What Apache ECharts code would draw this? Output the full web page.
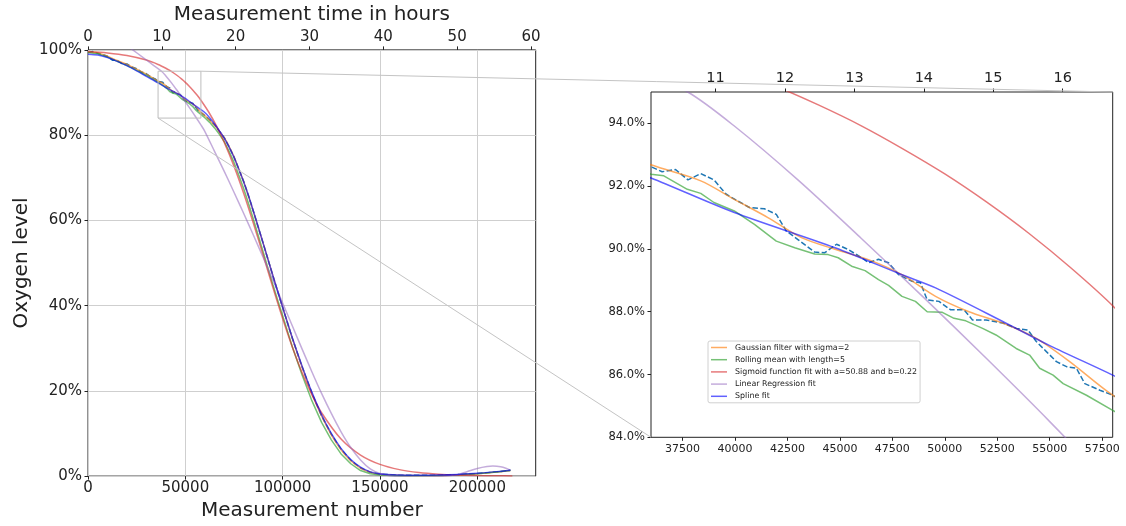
<!DOCTYPE html>
<html><head><meta charset="utf-8">
<script src="https://cdn.jsdelivr.net/npm/echarts@6/dist/echarts.min.js"></script>
<style>html,body{margin:0;padding:0;background:#fff}#c{width:1126px;height:526px}</style>
</head><body><div id="c"></div>
<script>
// ---------- tick labels ----------
const mainXTicks = [0, 50000, 100000, 150000, 200000];
const mainHourTicks = [0, 10, 20, 30, 40, 50, 60];
const mainYTicks = [0, 20, 40, 60, 80, 100];
const insetXTicks = [37500, 40000, 42500, 45000, 47500, 50000, 52500, 55000, 57500];
const insetHourTicks = [11, 12, 13, 14, 15, 16];
const insetYTicks = [84, 86, 88, 90, 92, 94];
// zoom window (shown as rectangle in main plot and as inset extent)
const zoomX = [36000, 58000];
const zoomY = [84, 95];
const mainXRange = [0, 230000];
const mainHourRange = [0, 60.64];
const insetHourRange = [10.07, 16.72];

// ---------- series values ----------
const rawX = [0, 2500, 5000, 7500, 10000, 12500, 15000, 17500, 20000, 22500, 25000, 27500, 30000, 32500, 34500,
  36000, 36530, 37170, 37760, 38370, 39000, 39570, 40130, 40690, 41400, 41970, 42450, 43000, 43800, 44280, 44840,
  45400, 46040, 46360, 46840, 47320, 47800, 48440, 48840, 49160, 49720, 50280, 50920, 51320, 51960, 52760, 53400,
  53960, 54360, 54840, 55320, 55800, 56270, 56670, 57390, 58000,
  60000, 62500, 65000, 67500, 70000, 72500, 75000, 77500, 80000, 82500, 85000, 87500, 90000, 92500, 95000, 97500, 100000,
  105000, 110000, 115000, 120000, 125000, 130000, 135000, 140000, 145000, 150000,
  160000, 170000, 180000, 190000, 200000, 210000, 217000];
const rawY = [99.4, 99.6, 99.2, 98.9, 98.5, 97.6, 97.5, 96.8, 96.7, 96.0, 95.6, 94.8, 94.4, 93.6, 93.2,
  92.62, 92.46, 92.53, 92.2, 92.4, 92.2, 91.75, 91.53, 91.32, 91.28, 91.1, 90.57, 90.3, 89.9, 89.88, 90.15,
  89.98, 89.72, 89.56, 89.67, 89.56, 89.18, 88.97, 88.92, 88.38, 88.33, 88.06, 88.06, 87.74, 87.74, 87.64, 87.47,
  87.42, 87.05, 86.73, 86.41, 86.25, 86.2, 85.71, 85.5, 85.34,
  84.6, 83.6, 82.4, 80.9, 79.4, 77.3, 74.9, 72.0, 69.1, 65.7, 62.1, 58.3, 54.6, 50.8, 47.0, 43.2, 39.6,
  32.3, 25.6, 19.5, 14.1, 9.8, 6.3, 3.7, 1.9, 0.9, 0.5,
  0.2, 0.2, 0.2, 0.35, 0.6, 1.0, 1.35];

const gaussX = [0, 5000, 10000, 15000, 20000, 25000, 30000, 33000,
  36000, 38370, 39970, 41570, 43170, 44770, 46360, 47960, 49560, 51150, 52760, 54360, 55950, 58000,
  60000, 62500, 65000, 67500, 70000, 72500, 75000, 77500, 80000, 82500, 85000, 87500, 90000, 92500, 95000, 97500, 100000,
  105000, 110000, 115000, 120000, 125000, 130000, 135000, 140000, 145000, 150000,
  160000, 170000, 180000, 190000, 200000, 210000, 217000];
const gaussY = [99.5, 99.3, 98.5, 97.5, 96.6, 95.5, 94.3, 93.5,
  92.68, 92.17, 91.58, 91.0, 90.36, 89.99, 89.66, 89.18, 88.49, 88.0, 87.64, 87.15, 86.41, 85.34,
  84.6, 83.5, 82.3, 80.9, 79.4, 77.3, 74.9, 72.0, 69.0, 65.6, 62.0, 58.3, 54.6, 50.8, 47.0, 43.3, 39.6,
  32.3, 25.6, 19.4, 14.1, 9.7, 6.2, 3.6, 1.9, 0.9, 0.45,
  0.2, 0.15, 0.15, 0.3, 0.55, 0.95, 1.3];

const rollX = [0, 5000, 10000, 15000, 20000, 25000, 30000, 33000,
  36000, 36610, 37730, 38370, 39000, 39970, 40930, 41970, 42850, 43800, 44440, 44920, 45560, 46200, 46840, 47320,
  47960, 48600, 49160, 49880, 50440, 51000, 51800, 52440, 53400, 54040, 54520, 55160, 55640, 56750, 58000,
  60000, 62500, 65000, 67500, 70000, 72500, 75000, 77500, 80000, 82500, 85000, 87500, 90000, 92500, 95000, 97500, 100000,
  105000, 110000, 115000, 120000, 125000, 130000, 135000, 140000, 145000, 150000,
  160000, 170000, 180000, 190000, 200000, 210000, 217000];
const rollY = [99.4, 99.1, 98.3, 97.3, 96.3, 95.2, 94.0, 93.2,
  92.38, 92.33, 91.90, 91.77, 91.48, 91.21, 90.78, 90.25, 90.04, 89.84, 89.82, 89.72, 89.45, 89.31, 89.02, 88.84,
  88.49, 88.33, 88.0, 87.98, 87.79, 87.71, 87.47, 87.26, 86.83, 86.62, 86.20, 85.98, 85.71, 85.34, 84.86,
  84.1, 83.0, 81.7, 80.2, 78.5, 76.2, 73.6, 70.6, 67.4, 63.9, 60.2, 56.4, 52.6, 48.7, 44.9, 41.2, 37.6,
  30.3, 23.7, 17.7, 12.6, 8.5, 5.2, 2.9, 1.3, 0.55, 0.25,
  0.1, 0.1, 0.15, 0.3, 0.55, 0.95, 1.3];

const sigX = [0, 10000, 20000, 30000, 36000, 40000, 42000, 44000, 46000, 48000, 50000, 52000, 54000, 56000, 58000,
  62000, 66000, 70000, 75000, 80000, 85000, 90000, 95000, 100000, 105000, 110000, 115000, 120000, 130000, 140000,
  150000, 160000, 170000, 180000, 190000, 200000, 210000, 218000];
const sigY = [99.60, 99.27, 98.68, 97.61, 96.59, 95.70, 95.17, 94.58, 93.93, 93.19, 92.39, 91.49, 90.50, 89.40, 88.19,
  85.43, 82.16, 78.31, 72.73, 66.33, 59.27, 51.80, 44.25, 36.97, 30.22, 24.23, 19.11, 14.86, 8.69, 4.94,
  2.75, 1.52, 0.84, 0.46, 0.25, 0.14, 0.075, 0.046];

const linX = [0, 10000, 20000, 23000, 28000, 33000, 37750, 40000, 43000, 46000, 49000, 52000, 55000, 58000,
  60000, 65000, 70000, 75000, 80000, 85000, 90000, 95000, 100000, 105000, 110000, 115000, 120000, 125000, 130000,
  135000, 140000, 145000, 150000, 155000, 160000, 170000, 180000, 190000, 195000, 200000, 205000, 208000, 212000,
  215000, 217000];
const linY = [108, 104.3, 101.0, 100.0, 98.3, 96.6, 95.0, 93.9, 92.2, 90.35, 88.45, 86.5, 84.5, 82.4,
  80.9, 76.2, 71.5, 66.6, 61.6, 56.5, 51.3, 46.0, 40.6, 35.2, 29.8, 24.5, 19.4, 14.7, 10.4,
  6.7, 3.8, 1.7, 0.6, 0.1, -0.1, -0.2, -0.1, 0.4, 1.1, 1.8, 2.25, 2.35, 2.2,
  1.8, 1.4];

const splX = [0, 5000, 10000, 15000, 20000, 25000, 30000,
  36000, 39970, 44770, 47960, 49560, 52760, 55000, 58000,
  60000, 62500, 65000, 67500, 70000, 72500, 75000, 77500, 80000, 82500, 85000, 87500, 90000, 92500, 95000, 97500, 100000,
  105000, 110000, 115000, 120000, 125000, 130000, 135000, 140000, 145000, 150000,
  160000, 170000, 180000, 190000, 200000, 210000, 217000];
const splY = [99.0, 98.8, 98.2, 97.3, 96.3, 95.1, 93.8,
  92.26, 91.16, 90.04, 89.18, 88.76, 87.69, 86.92, 85.98,
  85.3, 84.1, 82.6, 81.0, 79.3, 77.2, 74.8, 72.0, 69.0, 65.7, 62.1, 58.4, 54.6, 50.8, 47.0, 43.3, 39.6,
  32.4, 25.8, 19.7, 14.4, 10.0, 6.5, 3.9, 2.1, 1.0, 0.5,
  0.25, 0.2, 0.25, 0.4, 0.65, 1.05, 1.4];

const legendNames = ['Gaussian filter with sigma=2', 'Rolling mean with length=5',
  'Sigmoid function fit with a=50.88 and b=0.22', 'Linear Regression fit', 'Spline fit'];

// ---------- styling ----------
const FONT = 'DejaVu Sans';
const TXT = '#222';
const curves = [
  { name: 'Measured data', x: rawX, y: rawY, color: '#1f77b4', dash: [5.5, 2.4], smooth: false },
  { name: legendNames[0], x: gaussX, y: gaussY, color: 'rgba(255,127,14,0.65)', smooth: true },
  { name: legendNames[1], x: rollX, y: rollY, color: 'rgba(44,160,44,0.65)', smooth: false },
  { name: legendNames[2], x: sigX, y: sigY, color: 'rgba(214,39,40,0.62)', smooth: true },
  { name: legendNames[3], x: linX, y: linY, color: 'rgba(148,103,189,0.55)', smooth: true },
  { name: legendNames[4], x: splX, y: splY, color: 'rgba(0,0,255,0.62)', smooth: true }
];
const pairs = (xs, ys) => xs.map((x, i) => [x, ys[i]]);

const series = [];
[[0, 0], [2, 1]].forEach(([xi, yi]) => {
  curves.forEach(c => {
    series.push({
      type: 'line', name: c.name, xAxisIndex: xi, yAxisIndex: yi,
      data: pairs(c.x, c.y), symbol: 'none', showSymbol: false,
      smooth: c.smooth ? 0.3 : false, clip: true,
      color: c.color,
      lineStyle: { color: c.color, width: 1.5, type: c.dash || 'solid' },
      silent: true, animation: false
    });
  });
});
// zoom rectangle in the main plot
series.push({
  type: 'line', name: 'zoomBox', xAxisIndex: 0, yAxisIndex: 0, symbol: 'none', silent: true,
  data: [[zoomX[0], zoomY[0]], [zoomX[0], zoomY[1]], [zoomX[1], zoomY[1]], [zoomX[1], zoomY[0]], [zoomX[0], zoomY[0]]],
  lineStyle: { color: '#bdbdbd', width: 1 }, z: 5, animation: false
});

const tickStyle = (len) => ({ show: true, length: len, inside: false, lineStyle: { color: '#222', width: 1 } });

const option = {
  animation: false,
  backgroundColor: '#fff',
  textStyle: { fontFamily: FONT },
  grid: [
    { left: 88, top: 44, width: 447.7, height: 437, show: true, borderColor: '#222', borderWidth: 1, backgroundColor: 'transparent', containLabel: false },
    { left: 651, top: 92, width: 461.7, height: 345.3, show: true, borderColor: '#222', borderWidth: 1, backgroundColor: '#fff', containLabel: false }
  ],
  xAxis: [
    { gridIndex: 0, type: 'value', position: 'bottom', min: mainXRange[0], max: mainXRange[1], interval: 50000,
      name: 'Measurement number', nameLocation: 'middle', nameGap: 22,
      nameTextStyle: { fontSize: 20, color: TXT, fontFamily: FONT },
      axisLine: { show: false }, axisTick: Object.assign(tickStyle(3.5), { customValues: mainXTicks }),
      axisLabel: { customValues: mainXTicks, fontSize: 15, color: TXT, fontFamily: FONT, margin: 5, formatter: v => String(v) },
      splitLine: { show: true, lineStyle: { color: '#cfcfcf', width: 1 } } },
    { gridIndex: 0, type: 'value', position: 'top', min: mainHourRange[0], max: mainHourRange[1], interval: 10,
      name: 'Measurement time in hours', nameLocation: 'middle', nameGap: 21,
      nameTextStyle: { fontSize: 20, color: TXT, fontFamily: FONT },
      axisLine: { show: false }, axisTick: Object.assign(tickStyle(3.5), { customValues: mainHourTicks }),
      axisLabel: { customValues: mainHourTicks, fontSize: 15, color: TXT, fontFamily: FONT, margin: 5, formatter: v => String(v) },
      splitLine: { show: false } },
    { gridIndex: 1, type: 'value', position: 'bottom', min: zoomX[0], max: zoomX[1],
      axisLine: { show: false }, axisTick: Object.assign(tickStyle(3.5), { customValues: insetXTicks }),
      axisLabel: { customValues: insetXTicks, fontSize: 11, color: TXT, fontFamily: FONT, margin: 6, formatter: v => String(v) },
      splitLine: { show: false } },
    { gridIndex: 1, type: 'value', position: 'top', min: insetHourRange[0], max: insetHourRange[1],
      axisLine: { show: false }, axisTick: Object.assign(tickStyle(3.5), { customValues: insetHourTicks }),
      axisLabel: { customValues: insetHourTicks, fontSize: 14.5, color: TXT, fontFamily: FONT, margin: 6, formatter: v => String(v) },
      splitLine: { show: false } }
  ],
  yAxis: [
    { gridIndex: 0, type: 'value', min: 0, max: 100, interval: 20,
      name: 'Oxygen level', nameLocation: 'middle', nameGap: 56, nameRotate: 90,
      nameTextStyle: { fontSize: 20, color: TXT, fontFamily: FONT },
      axisLine: { show: false }, axisTick: Object.assign(tickStyle(3.5), { customValues: mainYTicks }),
      axisLabel: { customValues: mainYTicks, fontSize: 15, color: TXT, fontFamily: FONT, margin: 6, formatter: v => v + '%' },
      splitLine: { show: true, lineStyle: { color: '#cfcfcf', width: 1 } } },
    { gridIndex: 1, type: 'value', min: zoomY[0], max: zoomY[1],
      axisLine: { show: false }, axisTick: Object.assign(tickStyle(3.5), { customValues: insetYTicks }),
      axisLabel: { customValues: insetYTicks, fontSize: 11.5, color: TXT, fontFamily: FONT, margin: 6, formatter: v => v.toFixed(1) + '%' },
      splitLine: { show: false } }
  ],
  legend: {
    data: legendNames, orient: 'vertical', left: 708, top: 341,
    icon: 'rect', itemWidth: 16, itemHeight: 1.5, itemGap: 3.2,
    padding: [2, 3, 2, 3],
    backgroundColor: 'rgba(255,255,255,0.85)', borderColor: '#d0d0d0', borderWidth: 1, borderRadius: 2,
    textStyle: { fontSize: 7.9, color: TXT, fontFamily: FONT, lineHeight: 9, padding: [0, 0, 0, 3] },
    selectedMode: false
  },
  series: series
};

const chart = echarts.init(document.getElementById('c'), null, { renderer: 'canvas' });
chart.setOption(option);

// connector lines from the zoom rectangle to the inset corners
const P = (xi, yi, pt) => chart.convertToPixel({ xAxisIndex: xi, yAxisIndex: yi }, pt);
const a1 = P(0, 0, [zoomX[1], zoomY[1]]), b1 = P(2, 1, [zoomX[1], zoomY[1]]);
const a2 = P(0, 0, [zoomX[0], zoomY[0]]), b2 = P(2, 1, [zoomX[0], zoomY[0]]);
chart.setOption({
  graphic: [
    { type: 'line', z: 50, silent: true, shape: { x1: a1[0], y1: a1[1], x2: b1[0], y2: b1[1] }, style: { stroke: '#c4c4c4', lineWidth: 1 } },
    { type: 'line', z: 50, silent: true, shape: { x1: a2[0], y1: a2[1], x2: b2[0], y2: b2[1] }, style: { stroke: '#c4c4c4', lineWidth: 1 } }
  ]
});
</script></body></html>
